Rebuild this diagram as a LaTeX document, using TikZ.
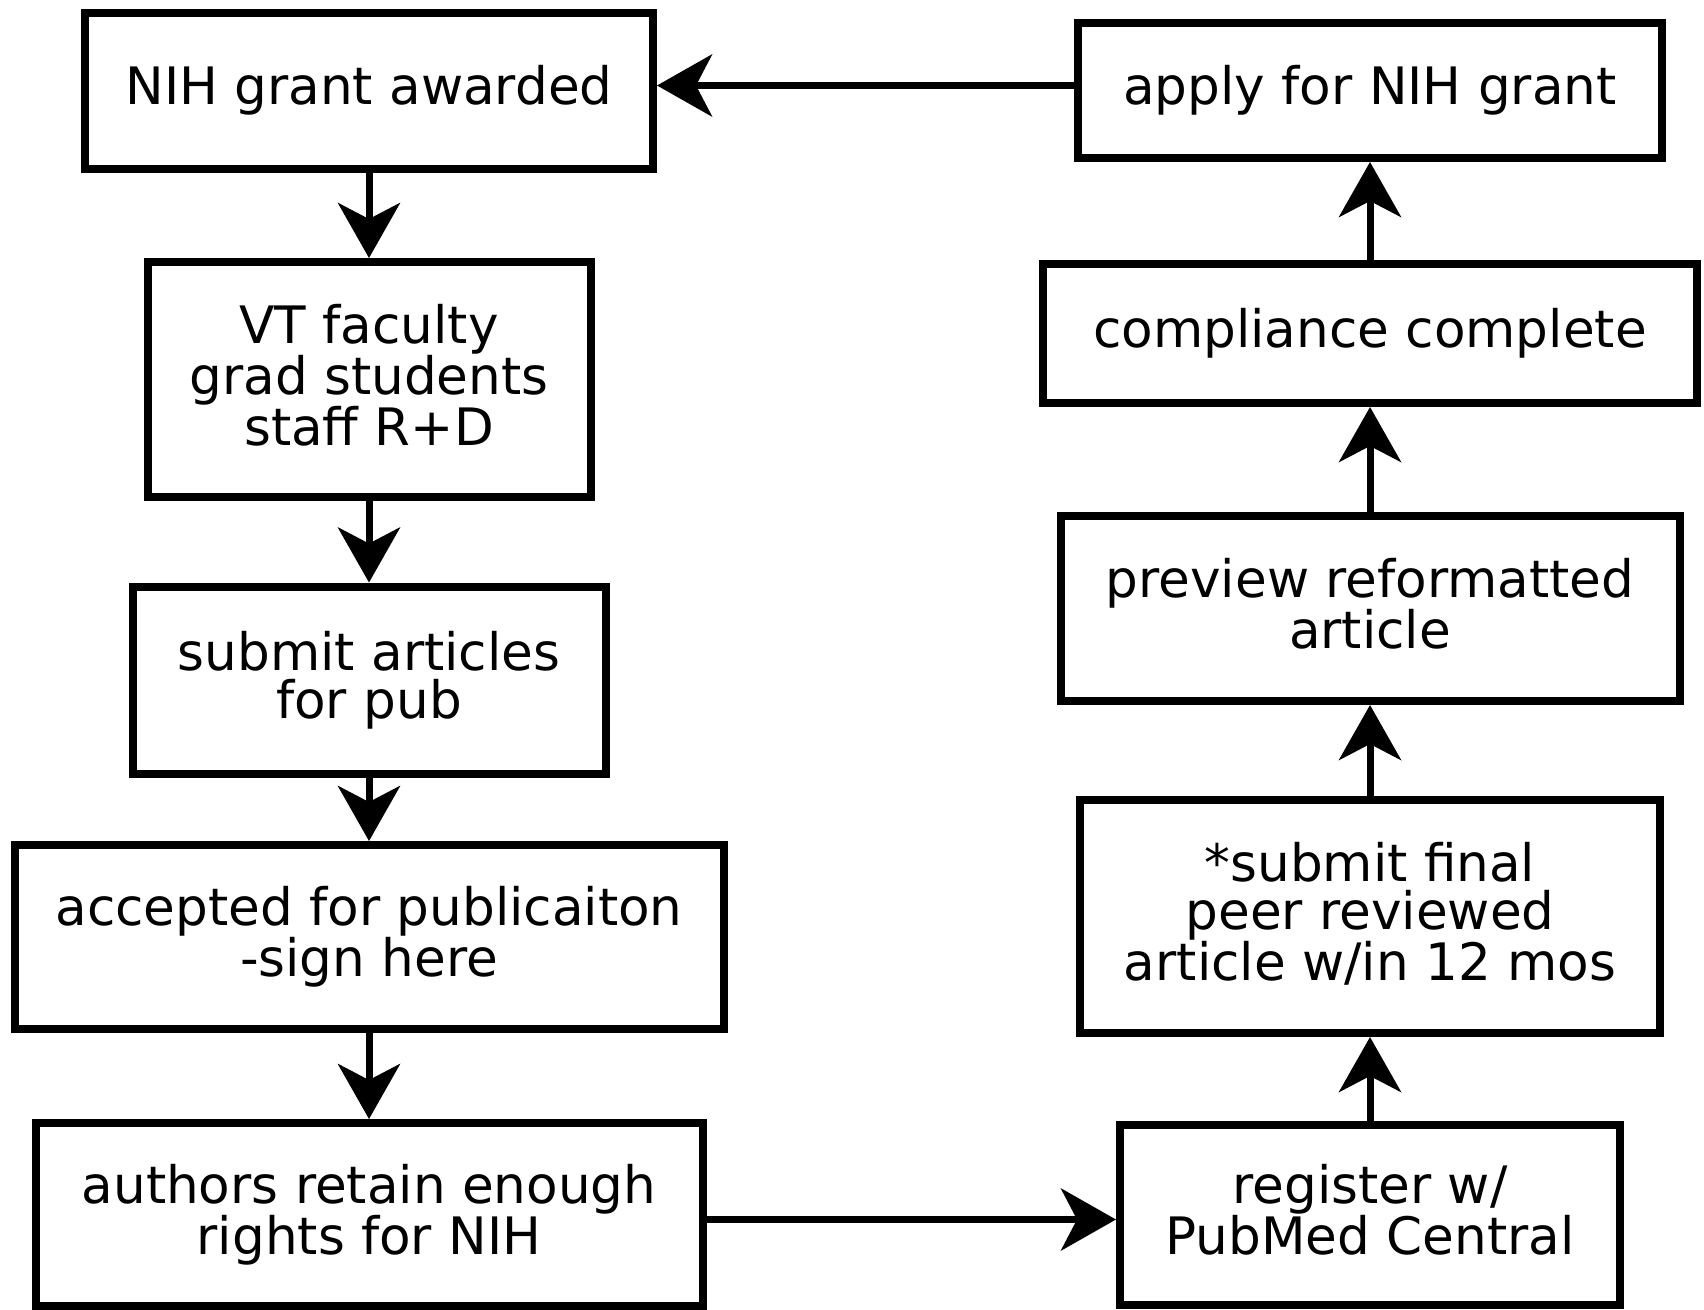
\documentclass[tikz,border=0pt]{standalone}
\usepackage{fontspec}
\setmainfont{DejaVu Sans}
\usetikzlibrary{arrows.meta}

\begin{document}
\begin{tikzpicture}[x=1pt,y=-1pt,
  box/.style={draw,line width=8pt,align=center,inner sep=0pt,
    font=\fontsize{51.6}{48}\selectfont,
    execute at end node={\rule[-10pt]{0pt}{10pt}}},
  flow/.style={line width=7pt,-{Stealth[length=55pt,width=62pt,inset=16pt]}}]
\useasboundingbox (0,0) rectangle (1704,1309);
% left column
\node[box,minimum width=568pt,minimum height=156pt] (award) at (369,90.5) {NIH grant awarded};
\node[box,minimum width=443pt,minimum height=235pt] (staff) at (369,379.5) {VT faculty\\grad students\\staff R+D};
\node[box,minimum width=473pt,minimum height=187pt] (submit) at (369,680) {submit articles\\for pub};
\node[box,minimum width=709pt,minimum height=184pt] (accept) at (369,937) {accepted for publicaiton\\-sign here};
\node[box,minimum width=667pt,minimum height=183pt] (rights) at (369,1214.5) {authors retain enough\\rights for NIH};
% right column
\node[box,minimum width=584pt,minimum height=135pt] (apply) at (1370,90.5) {apply for NIH grant};
\node[box,minimum width=654pt,minimum height=139pt] (comply) at (1370,333.5) {compliance complete};
\node[box,minimum width=619pt,minimum height=185pt] (preview) at (1370,608.5) {preview reformatted\\article};
\node[box,minimum width=580pt,minimum height=233pt] (final) at (1370,916.5) {*submit final\\peer reviewed\\article w/in 12 mos};
\node[box,minimum width=500pt,minimum height=180pt] (register) at (1370,1214.5) {register w/\\PubMed Central};
% arrows
\draw[flow] (award) -- (staff);
\draw[flow] (staff) -- (submit);
\draw[flow] (submit) -- (accept);
\draw[flow] (accept) -- (rights);
\draw[flow] ([yshift=-5pt]rights.east) -- ([yshift=-5pt]register.west);
\draw[flow] (register) -- (final);
\draw[flow] (final) -- (preview);
\draw[flow] (preview) -- (comply);
\draw[flow] (comply) -- (apply);
\draw[flow] ([yshift=5pt]apply.west) -- ([yshift=5pt]award.east);
\end{tikzpicture}
\end{document}
